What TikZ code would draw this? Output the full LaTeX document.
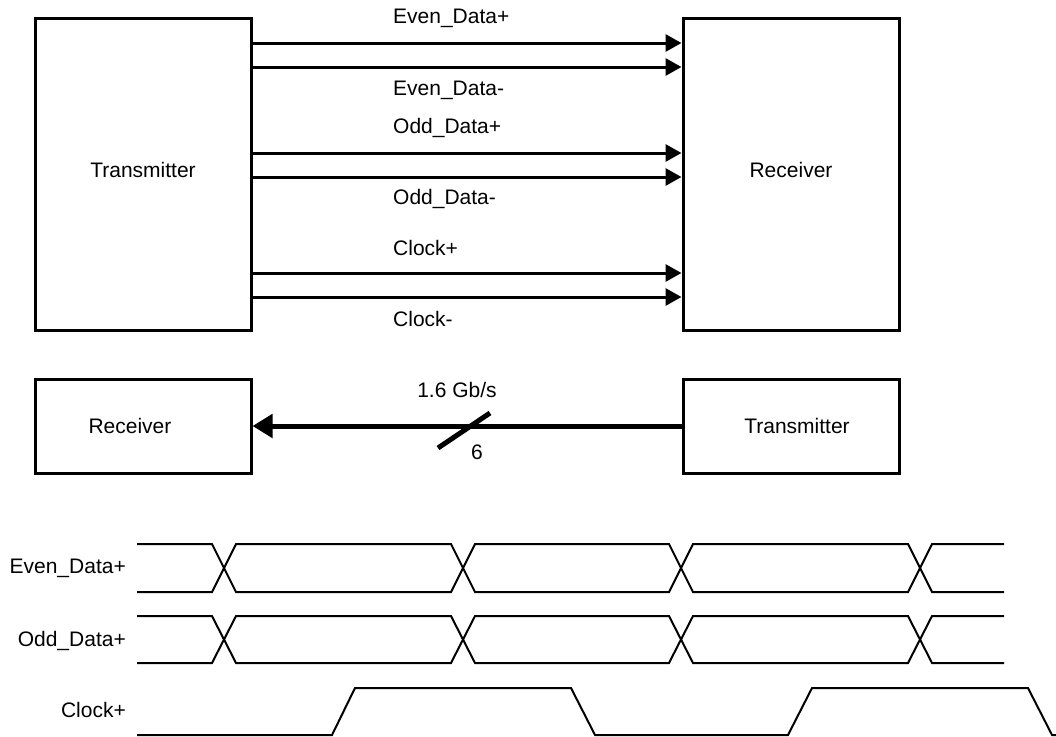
\documentclass[tikz,border=0pt]{standalone}
\usepackage{fontspec}
\setmainfont{Liberation Sans}
\usetikzlibrary{arrows.meta,positioning}

\begin{document}
\begin{tikzpicture}[
          x=1pt,y=-1pt,
          every node/.style={font=\fontsize{21}{25}\selectfont},
          unit/.style={draw,line width=3pt,minimum width=216pt,inner sep=0pt},
          sig/.style={-{Triangle[length=16pt,width=17pt]},line width=3pt},
          bus/.style={-{Triangle[length=20pt,width=23pt]},line width=5pt},
          lbl/.style={anchor=west,inner sep=0pt},
          trace/.style={anchor=east,inner sep=0pt},
          wave/.style={line width=2pt}
        ]
        \useasboundingbox (0,0) rectangle (1056,736);
        % link diagram
        \node[unit,minimum height=312pt] (tx) at (143,174) {\raisebox{9pt}{Transmitter}};
        \node[unit,minimum height=312pt] (rx) at (791,174) {\raisebox{9pt}{Receiver}};
        \foreach \y in {43,67,153,177,273,297} \draw[sig] (tx.east |- 0,\y) -- (rx.west |- 0,\y);
        \foreach \y/\t in {18/Even\_Data+,90/Even\_Data-,128/Odd\_Data+,199/Odd\_Data-,248/Clock+,319/Clock-}
          \node[lbl] at (393,\y) {\t};
        % back channel
        \node[unit,minimum height=94pt] (rx2) at (143,426) {\hspace*{-26pt}Receiver};
        \node[unit,minimum height=94pt] (tx2) at (791,426) {\hspace*{12pt}Transmitter};
        \draw[bus] (tx2.west) -- (rx2.east);
        \draw[line width=5pt] (438,448) -- (490,413);
        \node (rate) at (457,390) {1.6 Gb/s};
        \node (lanes) at (477,452) {6};
        % timing
        \node[trace] (ev) at (126,568) {Even\_Data+};
        \node[trace] (od) at (126,641) {Odd\_Data+};
        \node[trace] (ck) at (126,710) {Clock+};
        \foreach \t/\b in {544/592,616/663} {
          \draw[wave] (137,\t) -- (212,\t) -- (236,\b) -- (451,\b) -- (475,\t) -- (669,\t)
                      -- (693,\b) -- (908,\b) -- (932,\t) -- (1004,\t);
          \draw[wave] (137,\b) -- (212,\b) -- (236,\t) -- (451,\t) -- (475,\b) -- (669,\b)
                      -- (693,\t) -- (908,\t) -- (932,\b) -- (1004,\b);
        }
        \draw[wave] (137,735) -- (332,735) -- (355,688) -- (571,688) -- (595,735) -- (788,735)
                    -- (812,688) -- (1028,688) -- (1052,735) -- (1056,735);
      \end{tikzpicture}
\end{document}
